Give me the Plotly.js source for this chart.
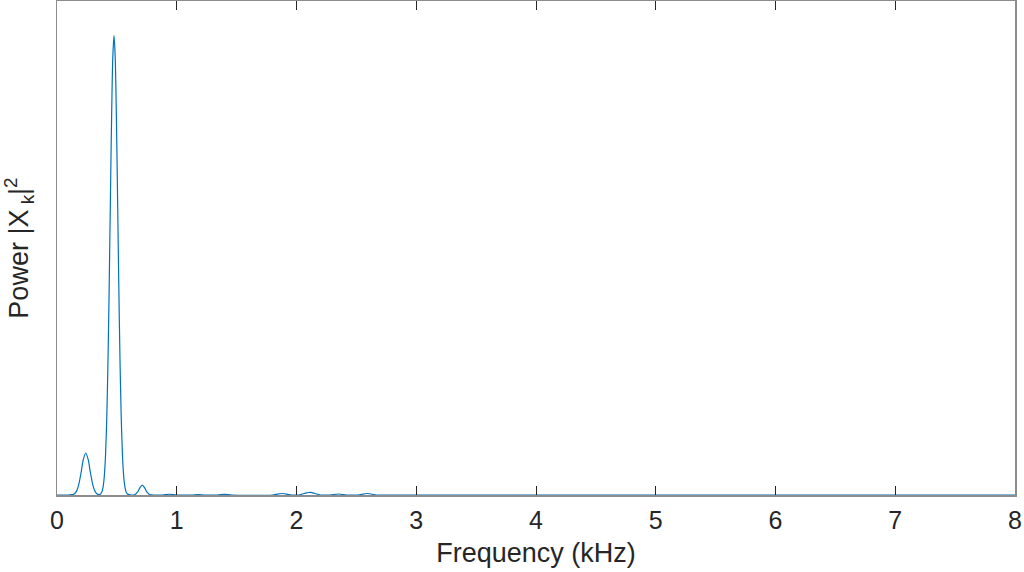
<!DOCTYPE html>
<html>
<head>
<meta charset="utf-8">
<script src="https://cdn.plot.ly/plotly-3.0.1.min.js"></script>
<style>html,body{margin:0;padding:0;background:#fff;}#chart{width:1024px;height:572px;}</style>
</head>
<body>
<div id="chart"></div>
<script>
// Frequency (kHz) and power values
var freqKHz = [0, 0.10, 0.14, 0.16, 0.18, 0.20, 0.22, 0.24, 0.26, 0.28, 0.30, 0.32, 0.34,
  0.366, 0.376, 0.386, 0.396, 0.406, 0.416, 0.426, 0.436, 0.446, 0.456, 0.466, 0.476,
  0.486, 0.496, 0.506, 0.516, 0.526, 0.536, 0.546, 0.556, 0.566, 0.576, 0.586,
  0.62, 0.652, 0.672, 0.692, 0.712, 0.732, 0.752, 0.772, 0.80,
  0.88, 0.94, 1.00, 1.12, 1.18, 1.24, 1.34, 1.40, 1.46, 1.80, 1.88, 1.96, 2.02, 2.11, 2.20,
  2.28, 2.35, 2.42, 2.51, 2.59, 2.67, 2.80, 4.0, 6.0, 8.0];
var power = [0, 0, 0.0014, 0.0062, 0.0195, 0.044, 0.072, 0.085, 0.072, 0.044, 0.0195, 0.0062, 0.0014,
  0.0025, 0.007, 0.018, 0.041, 0.085, 0.160, 0.274, 0.426, 0.599, 0.765, 0.886, 0.930,
  0.886, 0.765, 0.599, 0.426, 0.274, 0.160, 0.085, 0.041, 0.018, 0.007, 0.0025,
  0, 0.0011, 0.0056, 0.0145, 0.020, 0.0145, 0.0056, 0.0011, 0,
  0, 0.0015, 0, 0, 0.001, 0, 0, 0.0012, 0, 0, 0.003, 0, 0, 0.0055, 0,
  0, 0.002, 0, 0, 0.003, 0, 0, 0, 0, 0];
var xTicks = [0, 1, 2, 3, 4, 5, 6, 7, 8];

var trace = {
  x: freqKHz, y: power, type: 'scatter', mode: 'lines',
  line: {color: '#0072BD', width: 1.2, shape: 'spline', smoothing: 0.8},
  hoverinfo: 'x+y'
};

var layout = {
  width: 1024, height: 572,
  margin: {l: 57, r: 9, t: 1, b: 77},
  paper_bgcolor: '#ffffff', plot_bgcolor: '#ffffff',
  font: {family: '"Liberation Sans", Arial, sans-serif', color: '#262626'},
  showlegend: false,
  xaxis: {
    range: [0, 8], tickvals: xTicks, ticktext: xTicks.map(String),
    ticks: 'inside', ticklen: 9, tickcolor: '#262626', tickwidth: 1,
    showline: true, linecolor: '#8c8c8c', linewidth: 1.5, mirror: 'ticks',
    showgrid: false, zeroline: false,
    tickfont: {size: 25, color: '#262626'}, ticklabelstandoff: 2,
    title: {text: 'Frequency (kHz)', font: {size: 27, color: '#262626'}, standoff: 10}
  },
  yaxis: {
    range: [0, 1], showticklabels: false, ticks: '',
    showline: true, linecolor: '#8c8c8c', linewidth: 1.5, mirror: true,
    showgrid: false, zeroline: false,
    title: {text: 'Power |X<sub> k</sub>|<sup>2</sup>', font: {size: 27, color: '#262626'}, standoff: 22}
  }
};

Plotly.newPlot('chart', [trace], layout, {displayModeBar: false, staticPlot: true});
</script>
</body>
</html>
